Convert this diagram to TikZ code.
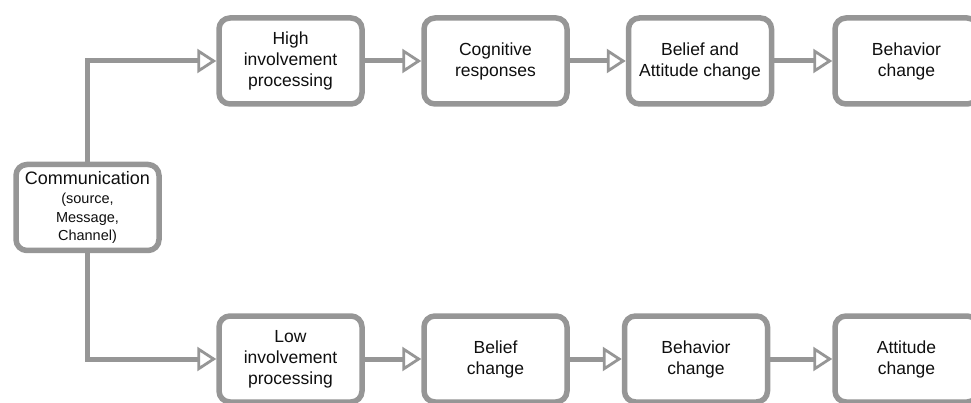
\documentclass[tikz,border=0pt]{standalone}
\usepackage{fontspec}
\setmainfont{Liberation Sans}
\usetikzlibrary{arrows.meta}
\definecolor{edgegray}{RGB}{150,150,150}
\definecolor{txt}{RGB}{15,15,15}
\tikzset{
  box/.style={draw=edgegray, line width=5.5pt, rounded corners=11pt, fill=white,
    minimum width=143pt, minimum height=86pt, align=center, text=txt, inner sep=2pt,
    font=\fontsize{17.5}{21}\selectfont},
  conn/.style={draw=edgegray, line width=5pt,
    -{Triangle[open, length=19pt, width=24pt, line width=2.8pt]}},
}
\begin{document}
\begin{tikzpicture}[x=1pt,y=-1pt]
\useasboundingbox (0,0) rectangle (971,403);
\clip (0,0) rectangle (971,403);
\node[box] (comm) at (87.5,207.5) {{\fontsize{18}{20}\selectfont Communication}\\[-2pt]{\fontsize{14.5}{17.5}\selectfont (source,}\\[-2.5pt]{\fontsize{14.5}{17.5}\selectfont Message,}\\[-2.5pt]{\fontsize{14.5}{17.5}\selectfont Channel)}};
\node[box] (high) at (290.5,61) {High\\involvement\\processing};
\node[box] (cog) at (495.5,61) {Cognitive\\responses};
\node[box] (bac) at (700,61) {Belief and\\Attitude change};
\node[box] (bch1) at (906.5,61) {Behavior\\change};
\node[box] (low) at (290.5,359) {Low\\involvement\\processing};
\node[box] (bel) at (495.5,359) {Belief\\change};
\node[box] (bch2) at (696,359) {Behavior\\change};
\node[box] (att) at (906.5,359) {Attitude\\change};
\draw[conn] (comm.north) |- (high.west);
\draw[conn] (comm.south) |- (low.west);
\draw[conn] (high) -- (cog);
\draw[conn] (cog) -- (bac);
\draw[conn] (bac) -- (bch1);
\draw[conn] (low) -- (bel);
\draw[conn] (bel) -- (bch2);
\draw[conn] (bch2) -- (att);
\end{tikzpicture}
\end{document}
